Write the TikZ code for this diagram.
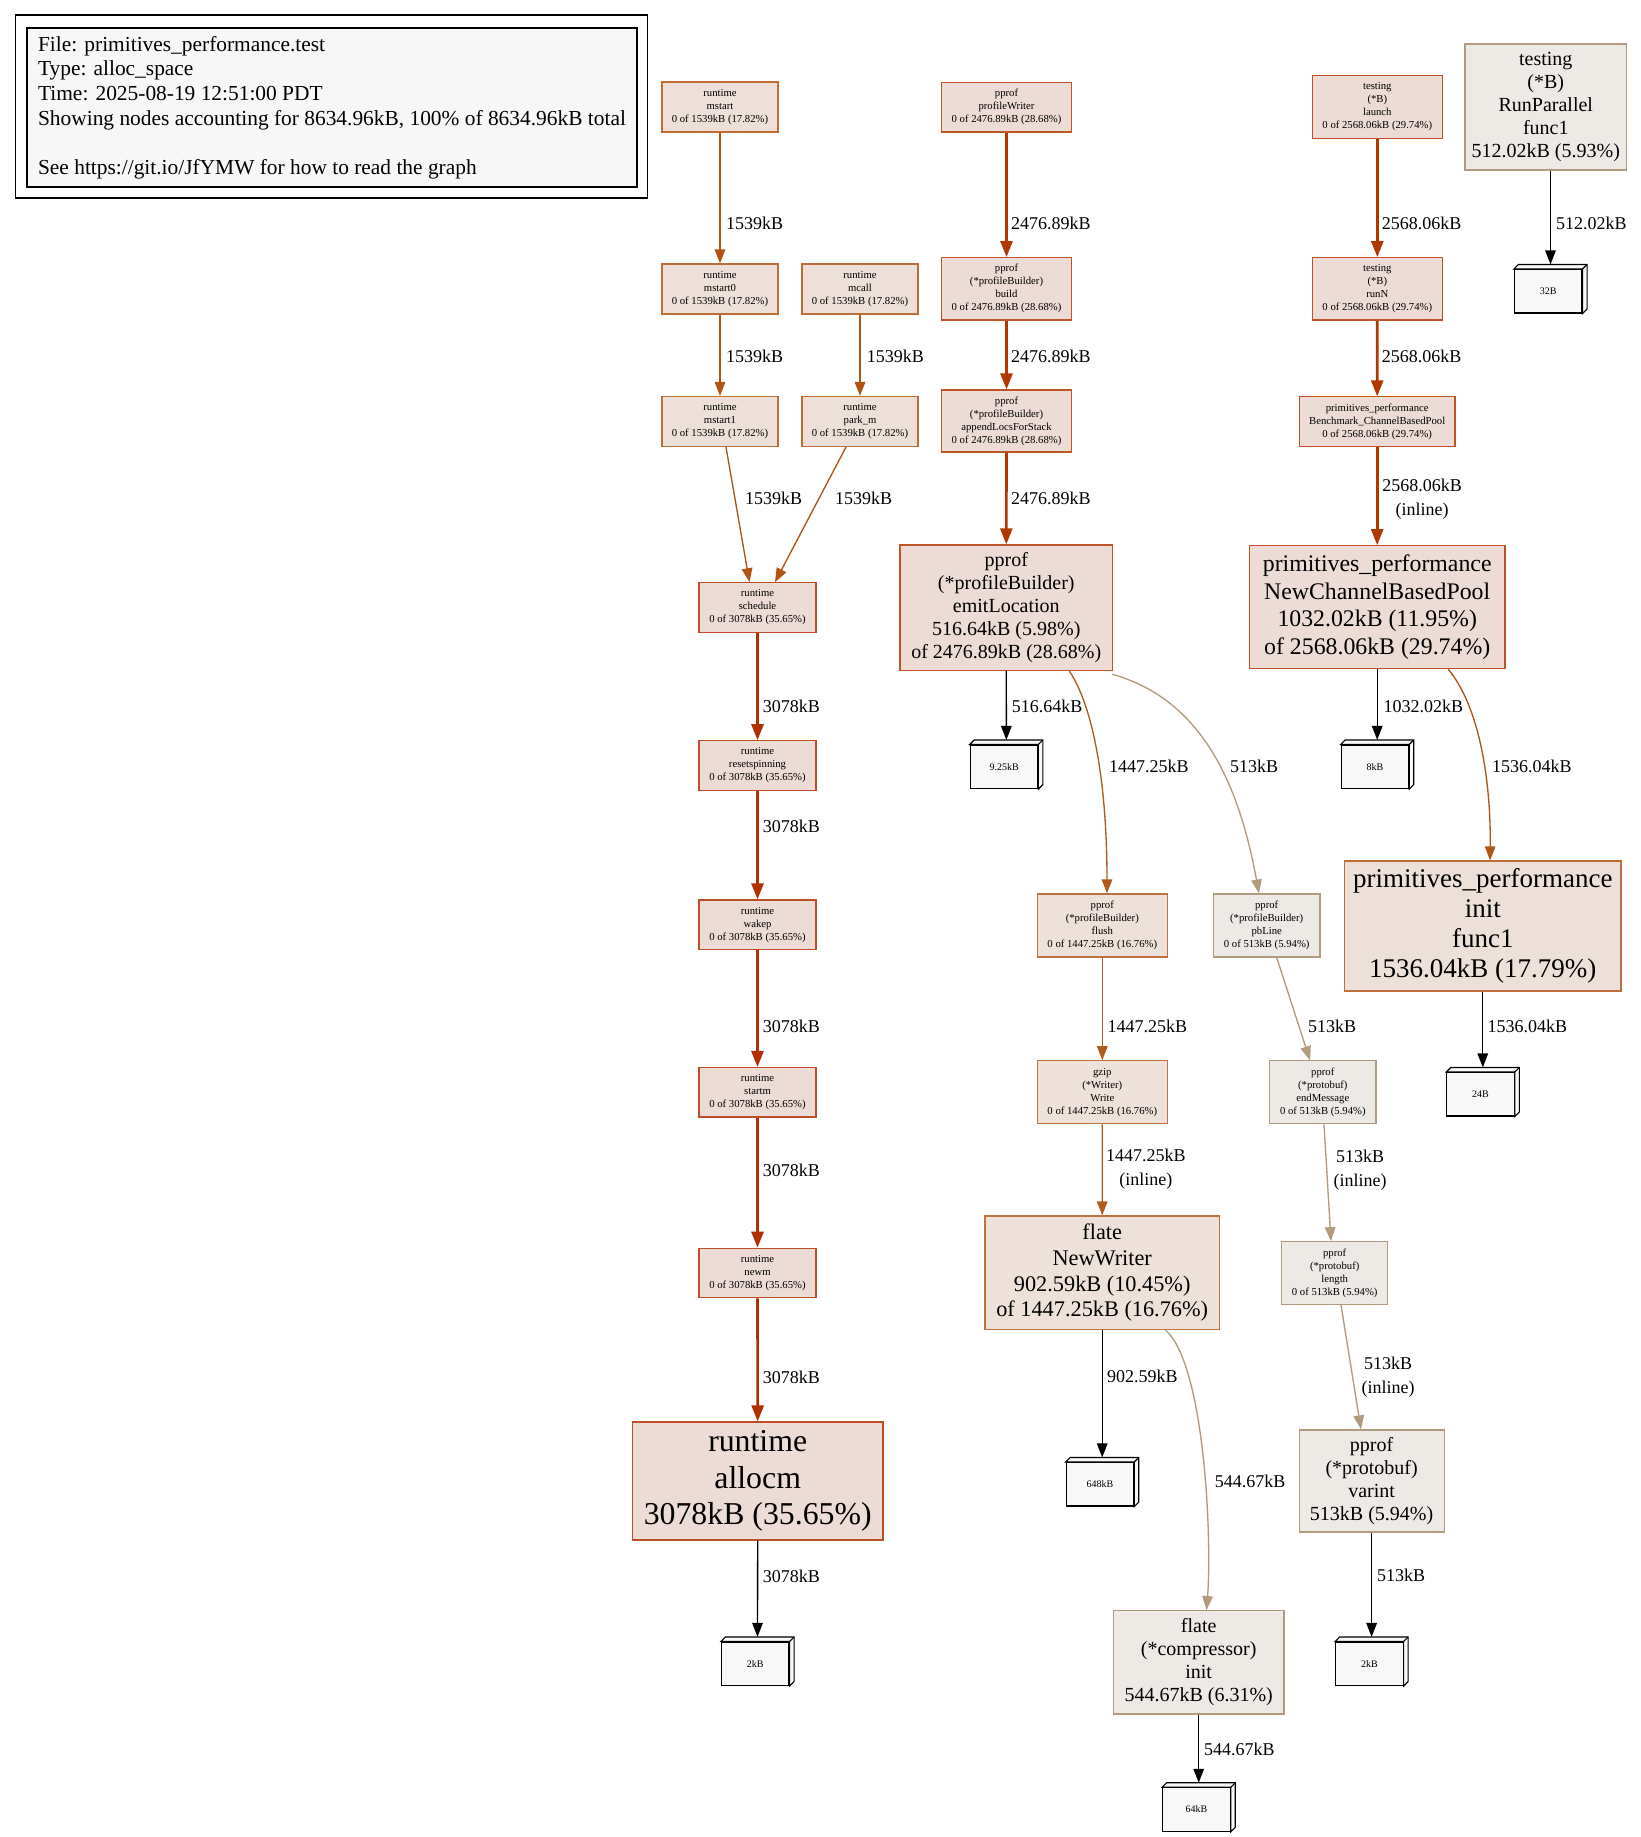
\documentclass[tikz,border=0pt]{standalone}
\usepackage{fontspec}
\setmainfont{Liberation Serif}
\usetikzlibrary{arrows.meta}

% pprof heat colours: f = outline/edge, b = fill
\definecolor{fA}{HTML}{B22F00}\definecolor{bA}{HTML}{EDDBD5} % 3078kB
\definecolor{fB}{HTML}{B23600}\definecolor{bB}{HTML}{EDDCD5} % 2568.06kB
\definecolor{fC}{HTML}{B23700}\definecolor{bC}{HTML}{EDDCD5} % 2476.89kB
\definecolor{fD}{HTML}{B25313}\definecolor{bD}{HTML}{EDE0D8} % 1539kB
\definecolor{fE}{HTML}{B25414}\definecolor{bE}{HTML}{EDE0D8} % 1536.04kB
\definecolor{fF}{HTML}{B25A1C}\definecolor{bF}{HTML}{EDE1D9} % 1447.25kB
\definecolor{fG}{HTML}{B2997A}\definecolor{bG}{HTML}{EDE9E5} % 544.67kB
\definecolor{fH}{HTML}{B29B7D}\definecolor{bH}{HTML}{EDEAE6} % 513kB
\definecolor{tagfill}{HTML}{F8F8F8}
\definecolor{legendfill}{HTML}{F7F7F7}

\tikzset{
  fn/.style={draw, rectangle, inner sep=0pt, align=center, line width=1.15pt},
  sm/.style={fn, font=\fontsize{10.7}{13}\selectfont},
  kA/.style={draw=fA!85!white, fill=bA}, kB/.style={draw=fB!85!white, fill=bB},
  kC/.style={draw=fC!85!white, fill=bC}, kD/.style={draw=fD!85!white, fill=bD},
  kE/.style={draw=fE!85!white, fill=bE}, kF/.style={draw=fF!85!white, fill=bF},
  kG/.style={draw=fG, fill=bG}, kH/.style={draw=fH, fill=bH},
  edge/.style={line width=1.33pt, -{Triangle[length=14pt,width=10.5pt]}},
  hvy/.style={line width=2.65pt, -{Triangle[length=16pt,width=12pt]}},
  elab/.style={font=\fontsize{18}{23.4}\selectfont, inner sep=0pt, align=center},
  tagbox/.style={draw, fill=tagfill, line width=1.1pt, inner sep=0pt,
    minimum width=67.5pt, minimum height=43.5pt, font=\fontsize{10}{12}\selectfont},
  tagline/.style={draw=black, fill=tagfill, line width=1.1pt},
}

\begin{document}
\begin{tikzpicture}[x=1pt,y=-1pt]
\fill[white] (0,0) rectangle (1641,1837);
\useasboundingbox (0,0) rectangle (1641,1837);

% ---- legend ----
\node[draw, line width=1.3pt, inner sep=0pt, minimum width=632.5pt, minimum height=183pt] (legendframe) at (331.5,106.6) {};
\node[draw, fill=legendfill, line width=1.3pt, inner sep=0pt, minimum width=610pt, minimum height=159pt,
      align=left, font=\fontsize{21.4}{24.6}\selectfont] (legend) at (332,107.5)
  {File: primitives\_performance.test\\Type: alloc\_space\\Time: 2025-08-19 12:51:00 PDT\\
   Showing nodes accounting for 8634.96kB, 100\% of 8634.96kB total\\\mbox{}\\
   See https://git.io/JfYMW for how to read the graph};

% ---- runtime column ----
\node[sm, kD, minimum width=116pt, minimum height=50pt] (mstart)  at (720,107)   {runtime\\mstart\\0 of 1539kB (17.82\%)};
\node[sm, kD, minimum width=116pt, minimum height=50pt] (mstart0) at (720,289)   {runtime\\mstart0\\0 of 1539kB (17.82\%)};
\node[sm, kD, minimum width=116pt, minimum height=50pt] (mcall)   at (860,289)   {runtime\\mcall\\0 of 1539kB (17.82\%)};
\node[sm, kD, minimum width=116pt, minimum height=50pt] (mstart1) at (720,421.5) {runtime\\mstart1\\0 of 1539kB (17.82\%)};
\node[sm, kD, minimum width=116pt, minimum height=50pt] (parkm)   at (860,421.5) {runtime\\park\_m\\0 of 1539kB (17.82\%)};
\node[sm, kA, minimum width=117pt, minimum height=49.5pt] (schedule)  at (757.5,607.5)  {runtime\\schedule\\0 of 3078kB (35.65\%)};
\node[sm, kA, minimum width=117pt, minimum height=49.5pt] (resetspin) at (757.5,765.5)  {runtime\\resetspinning\\0 of 3078kB (35.65\%)};
\node[sm, kA, minimum width=117pt, minimum height=49.5pt] (wakep)     at (757.5,924.7)  {runtime\\wakep\\0 of 3078kB (35.65\%)};
\node[sm, kA, minimum width=117pt, minimum height=49.5pt] (startm)    at (757.5,1092.3) {runtime\\startm\\0 of 3078kB (35.65\%)};
\node[sm, kA, minimum width=117pt, minimum height=49.5pt] (newm)      at (757.5,1273)   {runtime\\newm\\0 of 3078kB (35.65\%)};
\node[fn, kA, minimum width=250.5pt, minimum height=118pt, font=\fontsize{31.8}{36.3}\selectfont] (allocm) at (757.7,1481)
  {runtime\\allocm\\3078kB (35.65\%)};

% ---- pprof column ----
\node[sm, kC, minimum width=129.6pt, minimum height=49.7pt] (pw)     at (1006.5,107.2) {pprof\\profileWriter\\0 of 2476.89kB (28.68\%)};
\node[sm, kC, minimum width=129.6pt, minimum height=62.3pt] (build)  at (1006.5,288.8) {pprof\\(*profileBuilder)\\build\\0 of 2476.89kB (28.68\%)};
\node[sm, kC, minimum width=129.6pt, minimum height=62pt]   (append) at (1006.5,421)   {pprof\\(*profileBuilder)\\appendLocsForStack\\0 of 2476.89kB (28.68\%)};
\node[fn, kC, minimum width=212.7pt, minimum height=125.7pt, font=\fontsize{20}{22.9}\selectfont] (emit) at (1006.3,607.8)
  {pprof\\(*profileBuilder)\\emitLocation\\516.64kB (5.98\%)\\of 2476.89kB (28.68\%)};
\node[sm, kF, minimum width=130pt, minimum height=63pt] (flush) at (1102.3,925.5)  {pprof\\(*profileBuilder)\\flush\\0 of 1447.25kB (16.76\%)};
\node[sm, kF, minimum width=130pt, minimum height=63pt] (gzipw) at (1102.3,1092.3) {gzip\\(*Writer)\\Write\\0 of 1447.25kB (16.76\%)};
\node[fn, kF, minimum width=234.3pt, minimum height=113.4pt, font=\fontsize{22.3}{25.8}\selectfont] (newwriter) at (1102.2,1272.7)
  {flate\\NewWriter\\902.59kB (10.45\%)\\of 1447.25kB (16.76\%)};
\node[fn, kG, minimum width=170.7pt, minimum height=103.3pt, font=\fontsize{20}{23}\selectfont] (compinit) at (1198.7,1662.3)
  {flate\\(*compressor)\\init\\544.67kB (6.31\%)};
\node[sm, kH, minimum width=106.7pt, minimum height=63pt]   (pbline) at (1266.7,925.5)  {pprof\\(*profileBuilder)\\pbLine\\0 of 513kB (5.94\%)};
\node[sm, kH, minimum width=106.5pt, minimum height=63pt]   (endmsg) at (1322.8,1092.3) {pprof\\(*protobuf)\\endMessage\\0 of 513kB (5.94\%)};
\node[sm, kH, minimum width=106pt,   minimum height=62.6pt] (length) at (1334.7,1273)   {pprof\\(*protobuf)\\length\\0 of 513kB (5.94\%)};
\node[fn, kH, minimum width=145pt, minimum height=102pt, font=\fontsize{20}{22.9}\selectfont] (varint) at (1371.6,1481)
  {pprof\\(*protobuf)\\varint\\513kB (5.94\%)};

% ---- testing column ----
\node[sm, kB, minimum width=130pt, minimum height=62.6pt] (launch) at (1377.3,107)   {testing\\(*B)\\launch\\0 of 2568.06kB (29.74\%)};
\node[sm, kB, minimum width=130pt, minimum height=62.3pt] (runn)   at (1377.3,288.8) {testing\\(*B)\\runN\\0 of 2568.06kB (29.74\%)};
\node[sm, kB, minimum width=155.7pt, minimum height=49.3pt] (bench) at (1377.2,421.5) {primitives\_performance\\Benchmark\_ChannelBasedPool\\0 of 2568.06kB (29.74\%)};
\node[fn, kB, minimum width=255.7pt, minimum height=123pt, font=\fontsize{23.8}{27.4}\selectfont] (ncbp) at (1377.2,607.2)
  {primitives\_performance\\NewChannelBasedPool\\1032.02kB (11.95\%)\\of 2568.06kB (29.74\%)};
\node[fn, kE, minimum width=276.4pt, minimum height=130pt, font=\fontsize{27}{30}\selectfont] (initf) at (1482.8,926)
  {primitives\_performance\\init\\func1\\1536.04kB (17.79\%)};
\node[fn, kH, minimum width=161.7pt, minimum height=126pt, font=\fontsize{20}{22.9}\selectfont] (runpar) at (1545.8,107)
  {testing\\(*B)\\RunParallel\\func1\\512.02kB (5.93\%)};

% ---- allocation size boxes ----
\node[tagbox] (tA)   at (755.25,1663.75)  {2kB};
\node[tagbox] (t925) at (1004.1,766.75)   {9.25kB};
\node[tagbox] (t8)   at (1374.95,766.75)  {8kB};
\node[tagbox] (t32)  at (1548.25,291.25)  {32B};
\node[tagbox] (t24)  at (1480.55,1094.25) {24B};
\node[tagbox] (t648) at (1099.95,1484.25) {648kB};
\node[tagbox] (t64)  at (1196.45,1809.55) {64kB};
\node[tagbox] (tB)   at (1369.35,1663.75) {2kB};
\foreach \t in {tA,t925,t8,t32,t24,t648,t64,tB}{
  \filldraw[tagline] (\t.north west) -- ++(4.5,-4.5) -- ([shift={(4.5,-4.5)}]\t.north east)
    -- ([shift={(4.5,-4.5)}]\t.south east) -- (\t.south east) -- (\t.north east) -- cycle;
  \draw[tagline] (\t.north east) -- ++(4.5,-4.5);
}

% ---- connectors ----
\draw[edge, color=fD] (mstart.south) -- (mstart0.north);
\draw[edge, color=fD] (mstart0.south) -- (mstart1.north);
\draw[edge, color=fD] (mcall.south) -- (parkm.north);
\draw[edge, color=fD] ([xshift=6pt]mstart1.south) -- ([xshift=-8pt]schedule.north);
\draw[edge, color=fD] ([xshift=-14pt]parkm.south) -- ([xshift=17.5pt]schedule.north);
\draw[hvy, color=fA] (schedule.south) -- (resetspin.north);
\draw[hvy, color=fA] (resetspin.south) -- (wakep.north);
\draw[hvy, color=fA] (wakep.south) -- (startm.north);
\draw[hvy, color=fA] (startm.south) -- (newm.north);
\draw[hvy, color=fA] (newm.south) -- (allocm.north);
\draw[edge] (allocm.south) -- ([shift={(2.25,-4.5)}]tA.north);

\draw[hvy, color=fC] (pw.south) -- (build.north);
\draw[hvy, color=fC] (build.south) -- (append.north);
\draw[hvy, color=fC] (append.south) -- (emit.north);
\draw[edge] (emit.south) -- ([shift={(2.25,-4.5)}]t925.north);
\draw[edge, color=fF] ([xshift=63.2pt]emit.south) .. controls (1095,710) and (1107,790) .. ([xshift=4.7pt]flush.north);
\draw[edge, color=fH] ([shift={(-1.2,3)}]emit.south east) .. controls (1205,700) and (1240,790) .. ([xshift=-7.7pt]pbline.north);
\draw[edge, color=fF] (flush.south) -- (gzipw.north);
\draw[edge, color=fF] (gzipw.south) -- (newwriter.north);
\draw[edge] (newwriter.south) -- ([shift={(2.25,-4.5)}]t648.north);
\draw[edge, color=fG] ([xshift=63.3pt]newwriter.south) .. controls (1205,1365) and (1212,1540) .. ([xshift=7.8pt]compinit.north);
\draw[edge] (compinit.south) -- ([shift={(2.25,-4.5)}]t64.north);
\draw[edge, color=fH] ([xshift=10pt]pbline.south) -- ([xshift=-12.8pt]endmsg.north);
\draw[edge, color=fH] ([xshift=1.2pt]endmsg.south) -- ([xshift=-3.7pt]length.north);
\draw[edge, color=fH] ([xshift=6.3pt]length.south) -- ([xshift=-10.6pt]varint.north);
\draw[edge] (varint.south) -- ([shift={(2.25,-4.5)}]tB.north);

\draw[hvy, color=fB] (launch.south) -- (runn.north);
\draw[hvy, color=fB] (runn.south) -- (bench.north);
\draw[hvy, color=fB] (bench.south) -- (ncbp.north);
\draw[edge] (ncbp.south) -- ([shift={(2.25,-4.5)}]t8.north);
\draw[edge, color=fE] ([xshift=71.1pt]ncbp.south) .. controls (1482,710) and (1491,790) .. ([xshift=7.2pt]initf.north);
\draw[edge] (initf.south) -- ([shift={(2.25,-4.5)}]t24.north);
\draw[edge] ([xshift=4.7pt]runpar.south) -- ([shift={(2.25,-4.5)}]t32.north);

% ---- connector labels ----
\node[elab, anchor=west] (lA1) at (726,223)   {1539kB};
\node[elab, anchor=west] (lA2) at (726,356)   {1539kB};
\node[elab, anchor=west] (lA3) at (866.7,356) {1539kB};
\node[elab, anchor=west] (lA4) at (745,498)   {1539kB};
\node[elab, anchor=west] (lA5) at (835,498)   {1539kB};
\node[elab, anchor=west] (lB1) at (762.7,706)    {3078kB};
\node[elab, anchor=west] (lB2) at (762.7,826.7)  {3078kB};
\node[elab, anchor=west] (lB3) at (762.7,1026)   {3078kB};
\node[elab, anchor=west] (lB4) at (762.7,1170)   {3078kB};
\node[elab, anchor=west] (lB5) at (762.7,1377)   {3078kB};
\node[elab, anchor=west] (lB6) at (762.7,1576)   {3078kB};
\node[elab, anchor=west] (lC1) at (1011,223.3)   {2476.89kB};
\node[elab, anchor=west] (lC2) at (1011,356)     {2476.89kB};
\node[elab, anchor=west] (lC3) at (1011,498)     {2476.89kB};
\node[elab, anchor=west] (lC4) at (1011.7,706)   {516.64kB};
\node[elab, anchor=west] (lC5) at (1109,766)     {1447.25kB};
\node[elab, anchor=west] (lC6) at (1230,766)     {513kB};
\node[elab, anchor=west] (lC7) at (1107.3,1026)  {1447.25kB};
\node[elab, anchor=west] (lC8) at (1308,1026)    {513kB};
\node[elab, anchor=west] (lC9) at (1106,1169)    {1447.25kB\\(inline)};
\node[elab] (lC10) at (1360,1170)                {513kB\\(inline)};
\node[elab] (lC11) at (1388,1377)                {513kB\\(inline)};
\node[elab, anchor=west] (lC12) at (1107,1376)   {902.59kB};
\node[elab, anchor=west] (lC13) at (1214.6,1481) {544.67kB};
\node[elab, anchor=west] (lC14) at (1204,1749)   {544.67kB};
\node[elab, anchor=west] (lC15) at (1377,1575)   {513kB};
\node[elab, anchor=west] (lD1) at (1381.7,223.3) {2568.06kB};
\node[elab, anchor=west] (lD2) at (1381.7,356)   {2568.06kB};
\node[elab] (lD3) at (1422,499)                  {2568.06kB\\(inline)};
\node[elab, anchor=west] (lD4) at (1383.3,706.7) {1032.02kB};
\node[elab, anchor=west] (lD5) at (1492,766)     {1536.04kB};
\node[elab, anchor=west] (lD6) at (1487.5,1026)  {1536.04kB};
\node[elab, anchor=west] (lE1) at (1556,223.3)   {512.02kB};
\end{tikzpicture}
\end{document}
